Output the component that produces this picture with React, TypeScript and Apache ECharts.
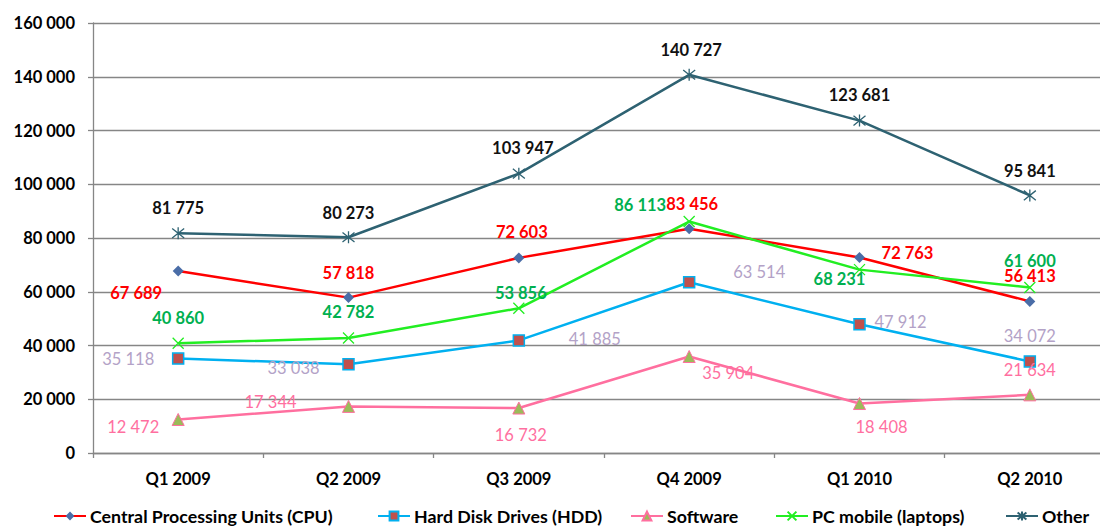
import React, { useEffect, useRef } from "react";
import * as echarts from "echarts";

const categories = ["Q1 2009", "Q2 2009", "Q3 2009", "Q4 2009", "Q1 2010", "Q2 2010"];
const cpu = [67689, 57818, 72603, 83456, 72763, 56413];
const hdd = [35118, 33038, 41885, 63514, 47912, 34072];
const software = [12472, 17344, 16732, 35904, 18408, 21634];
const laptops = [40860, 42782, 53856, 86113, 68231, 61600];
const other = [81775, 80273, 103947, 140727, 123681, 95841];
const seriesNames = [
  "Central Processing Units (CPU)",
  "Hard Disk Drives (HDD)",
  "Software",
  "PC mobile (laptops)",
  "Other",
];

// label placement (pixel offsets from each point)
const cpuOff = [[-42, 22], [0, -25], [3, -26], [3, -25], [48, -4], [0, -25]];
const hddOff = [[-50, 0], [-55, 4], [76, -1], [70, -10], [41, -2], [0, -25]];
const swOff = [[-45, 8], [-78, -4], [2, 27], [39, 16], [22, 23], [0, -25]];
const pcOff = [[0, -25], [0, -26], [2, -15], [-49, -17], [-20, 9], [0, -26]];
const otherOff = [[0, -25], [0, -24], [4, -26], [2, -25], [0, -26], [0, -24]];
// legend item left positions
const legendLefts = [53, 377, 630, 775, 1005];

const fmt = (v: number) => String(v).replace(/\B(?=(\d{3})+(?!\d))/g, " ");
const FONT = "Lato";

function mkSeries(
  name: string,
  values: number[],
  offs: number[][],
  lineColor: string,
  symbol: string,
  symbolSize: number,
  fill: string,
  border: string,
  borderWidth: number,
  labelColor: string,
  bold: boolean
) {
  return {
    name,
    type: "line",
    data: values.map((v, i) => ({
      value: v,
      label: { offset: offs[i] },
    })),
    symbol,
    symbolSize,
    showAllSymbol: true,
    lineStyle: { color: lineColor, width: 2.5 },
    itemStyle: { color: fill, borderColor: border, borderWidth },
    label: {
      show: true,
      position: "inside",
      formatter: (p: any) => fmt(p.value),
      color: labelColor,
      fontFamily: FONT,
      fontSize: 16.5,
      fontWeight: bold ? "bold" : "normal",
    },
    emphasis: { disabled: true },
  };
}

export default function App() {
  const ref = useRef<HTMLDivElement>(null);
  useEffect(() => {
    const chart = echarts.init(ref.current!, undefined, { renderer: "svg" });
    const xPath = "path://M0,0L10,10M0,10L10,0";
    const starPath = "path://M0,1L10,9M0,9L10,1M5,0L5,10";
    chart.setOption({
      animation: false,
      backgroundColor: "#ffffff",
      grid: { left: 93, right: 0, top: 23, bottom: 74 },
      xAxis: {
        type: "category",
        data: categories,
        boundaryGap: true,
        axisLine: { lineStyle: { color: "#868686", width: 1.3 } },
        axisTick: { show: true, length: 5, lineStyle: { color: "#868686", width: 1.3 } },
        axisLabel: {
          color: "#000",
          fontFamily: FONT,
          fontSize: 16.5,
          fontWeight: "bold",
          margin: 17,
        },
      },
      yAxis: {
        type: "value",
        min: 0,
        max: 160000,
        interval: 20000,
        axisLine: { show: true, lineStyle: { color: "#868686", width: 1.3 } },
        axisTick: { show: true, length: 5, lineStyle: { color: "#868686", width: 1.3 } },
        splitLine: { lineStyle: { color: "#868686", width: 1.3 } },
        axisLabel: {
          color: "#000",
          fontFamily: FONT,
          fontSize: 16.5,
          fontWeight: "bold",
          margin: 18,
          formatter: (v: number) => fmt(v),
        },
      },
      legend: seriesNames.map((n, i) => ({
        left: legendLefts[i],
        top: 507,
        padding: 0,
        itemWidth: 32,
        itemHeight: 11,
        itemGap: 0,
        selectedMode: false,
        textStyle: { fontFamily: FONT, fontSize: 17.8, fontWeight: "bold", color: "#000", padding: [0, 0, 0, -1] },
        data: [n],
      })),
      series: [
        mkSeries(seriesNames[0], cpu, cpuOff, "#FF0000", "diamond", 11, "#4A6DA7", "#4A6DA7", 0, "#FF0000", true),
        mkSeries(seriesNames[1], hdd, hddOff, "#00B0F0", "rect", 11, "#C0504D", "#00B0F0", 1.5, "#B3A2C7", false),
        mkSeries(seriesNames[2], software, swOff, "#FF6F9F", "triangle", 12, "#9BBB59", "#FF6F9F", 1, "#FF6F9F", false),
        mkSeries(seriesNames[3], laptops, pcOff, "#22EE22", xPath, 11, "#22EE22", "#22EE22", 1.3, "#00B050", true),
        mkSeries(seriesNames[4], other, otherOff, "#2E6272", starPath, 12, "#2E6272", "#2E6272", 1.3, "#111111", true),
      ],
    });
    return () => chart.dispose();
  }, []);
  return (
    <div style={{ position: "absolute", left: 0, top: 0, width: 1100, height: 527, overflow: "hidden" }}>
      <div ref={ref} style={{ position: "absolute", left: 0, top: 0, width: 1115, height: 527 }} />
    </div>
  );
}
